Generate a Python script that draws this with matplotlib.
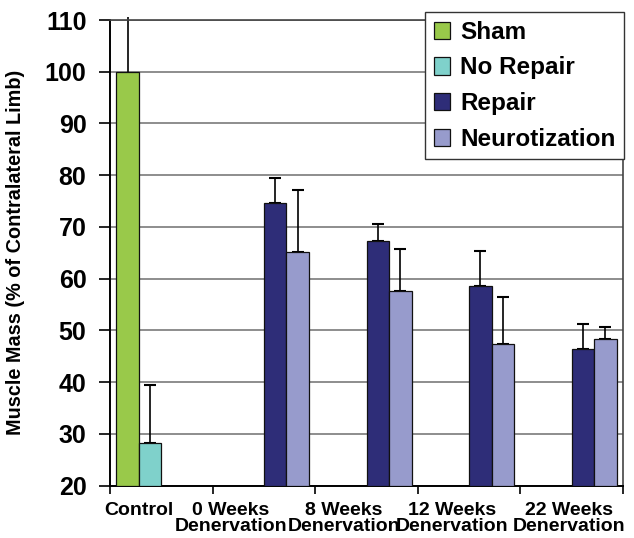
import numpy as np
import matplotlib
matplotlib.use("Agg")
import matplotlib.pyplot as plt

## Data (nan = no bar in that group)
groups = ['Control', '0 Weeks\nDenervation', '8 Weeks\nDenervation',
          '12 Weeks\nDenervation', '22 Weeks\nDenervation']
series = ['Sham', 'No Repair', 'Repair', 'Neurotization']
sham = [100.0, np.nan, np.nan, np.nan, np.nan]
sham_err = [10.5, np.nan, np.nan, np.nan, np.nan]
no_repair = [28.3, np.nan, np.nan, np.nan, np.nan]
no_repair_err = [11.2, np.nan, np.nan, np.nan, np.nan]
repair = [np.nan, 74.6, 67.3, 58.6, 46.3]
repair_err = [np.nan, 4.8, 3.2, 6.7, 4.9]
neuro = [np.nan, 65.2, 57.7, 47.3, 48.3]
neuro_err = [np.nan, 12.0, 8.0, 9.1, 2.4]

colors = ['#99C94A', '#7FD1CB', '#2E2D78', '#979BCC']
label_pos = [0.28, 1.18, 2.28, 3.33, 4.47]   # excel shoved the labels around

plt.rcParams['font.family'] = ['Liberation Sans', 'DejaVu Sans']
plt.rcParams['font.weight'] = 'bold'

fig = plt.figure(figsize=(6.34, 5.38), dpi=100)
ax = fig.add_axes([110/634, 1-485.5/538, 513/634, 465.5/538])

slot = 0.2193
margin = (1 - 4*slot) / 2
idx = np.arange(len(groups))
values = [sham, no_repair, repair, neuro]
errs = [sham_err, no_repair_err, repair_err, neuro_err]

for k, (vals, err) in enumerate(zip(values, errs)):
    x = idx + margin + (k + 0.5)*slot
    vals = np.array(vals)
    err = np.array(err)
    ok = ~np.isnan(vals)
    ax.bar(x[ok], vals[ok] - 20, bottom=20, width=slot, color=colors[k],
           edgecolor='#111111', linewidth=0.9, label=series[k], zorder=3)
    ax.errorbar(x[ok], vals[ok], yerr=[np.zeros(ok.sum()), err[ok]],
                fmt='none', ecolor='black', elinewidth=1.2,
                capsize=0 if k == 0 else 4, capthick=1.5, zorder=2, clip_on=False)

ax.set_xlim(0, 5)
ax.set_ylim(20, 110)
ax.set_yticks(np.arange(20, 111, 10))
ax.yaxis.grid(True, color='#7a7a7a', linewidth=1.2, zorder=0)
ax.set_axisbelow(True)

ax.set_xticks(np.arange(0, 6))
ax.set_xticklabels([])
ax.set_xticks(label_pos, minor=True)
ax.set_xticklabels(groups, minor=True, fontsize=14, fontweight='bold', linespacing=0.9)
ax.tick_params(axis='x', which='minor', length=0, pad=12)
ax.tick_params(axis='x', which='major', length=6, width=1.2, direction='out')
ax.tick_params(axis='y', length=8, width=1.2, pad=9, labelsize=18)
for lab in ax.get_yticklabels():
    lab.set_fontweight('bold')

for side in ['left', 'bottom']:
    ax.spines[side].set_linewidth(1.4)
    ax.spines[side].set_color('black')
ax.spines['top'].set_color('#444444')
ax.spines['top'].set_linewidth(1.2)
ax.spines['right'].set_color('#444444')
ax.spines['right'].set_linewidth(1.2)

ax.set_ylabel('Muscle Mass (% of Contralateral Limb)', fontsize=14.3,
              fontweight='bold', labelpad=10)
ax.yaxis.set_label_coords(-85/513, 0.5)

leg = fig.legend(loc='upper right', bbox_to_anchor=(624/634, 1-12/538),
                 fontsize=17.5, frameon=True, fancybox=False, framealpha=1,
                 edgecolor='#333333', handlelength=0.68, handleheight=0.72,
                 handletextpad=0.4, labelspacing=0.52, borderpad=0.36,
                 borderaxespad=0)
leg.get_frame().set_linewidth(1.0)
for t in leg.get_texts():
    t.set_fontweight('bold')

fig.savefig('out.png', dpi=100)
